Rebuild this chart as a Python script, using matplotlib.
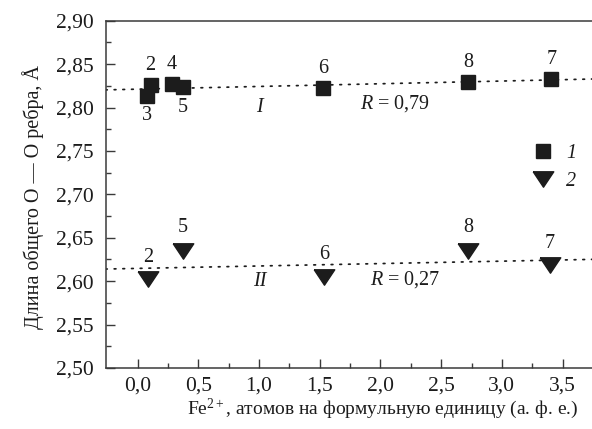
import matplotlib
matplotlib.use("Agg")
import matplotlib.pyplot as plt
import numpy as np
from matplotlib.ticker import FuncFormatter, MultipleLocator, FixedLocator

plt.rcParams["font.family"] = ["Liberation Serif", "DejaVu Serif"]
plt.rcParams["mathtext.fontset"] = "custom"
plt.rcParams["mathtext.rm"] = "Liberation Serif"
plt.rcParams["mathtext.it"] = "Liberation Serif:italic"

INK = "#1c1c1c"
AX_GRAY = "#3a3a3a"

# series 1: squares (upper group)
sq_labels = ["3", "2", "4", "5", "6", "8", "7"]
sq_fe = [0.074, 0.107, 0.28, 0.373, 1.529, 2.723, 3.407]
sq_len = [2.8136, 2.8256, 2.827, 2.8233, 2.8228, 2.829, 2.8332]
sq_label_below = [True, False, False, True, False, False, False]

# series 2: triangles (lower group)
tri_labels = ["2", "5", "6", "8", "7"]
tri_fe = [0.087, 0.371, 1.535, 2.723, 3.394]
tri_len = [2.6028, 2.635, 2.6047, 2.635, 2.6186]

y_ticks = [2.50, 2.55, 2.60, 2.65, 2.70, 2.75, 2.80, 2.85, 2.90]
x_ticks = [0.0, 0.5, 1.0, 1.5, 2.0, 2.5, 3.0, 3.5]
R_values = ["0,79", "0,27"]

FS = 14.5
W, H = 592, 429

fig = plt.figure(figsize=(W / 100, H / 100), dpi=100)
ax = fig.add_axes([105.5 / W, (H - 368) / H, 487.4 / W, 347.3 / H])
ax.set_xlim(-0.265, 3.75)
ax.set_ylim(2.50, 2.90)

# trend lines fitted through each group
for xs, ys in ((sq_fe, sq_len), (tri_fe, tri_len)):
    k, b = np.polyfit(xs, ys, 1)
    xx = np.array(ax.get_xlim())
    ax.plot(xx, k * xx + b, color=INK, lw=1.25, ls=(0, (1, 4.0)),
            dash_capstyle="round", zorder=1)

tri_marker = [(-1, 0.75), (1, 0.75), (0, -0.75), (-1, 0.75)]
h1, = ax.plot(sq_fe, sq_len, ls="none", marker="s", ms=9.4, color=INK, zorder=3)
h2, = ax.plot(tri_fe, tri_len, ls="none", marker=tri_marker, ms=14.8,
              color=INK, zorder=3)

for lab, x, y, below in zip(sq_labels, sq_fe, sq_len, sq_label_below):
    dy = -14.5 if below else 14.0
    ax.annotate(lab, (x, y), xytext=(0, dy), textcoords="offset points",
                ha="center", va="center", fontsize=FS, color=INK)
for lab, x, y in zip(tri_labels, tri_fe, tri_len):
    dy = 16.5 if lab in ("5", "6", "8") else 15.5
    ax.annotate(lab, (x, y), xytext=(0, dy), textcoords="offset points",
                ha="center", va="center", fontsize=FS, color=INK)

ax.text(1.0, 2.8006, "I", style="italic", fontsize=FS, color=INK,
        ha="center", va="center")
ax.text(1.01, 2.5993, "II", style="italic", fontsize=FS, color=INK,
        ha="center", va="center")
ax.text(1.831, 2.8048, "$R$ = " + R_values[0], fontsize=FS, color=INK,
        ha="left", va="center")
ax.text(1.913, 2.6013, "$R$ = " + R_values[1], fontsize=FS, color=INK,
        ha="left", va="center")

leg = ax.legend([h1, h2], ["1", "2"], loc="center left",
                bbox_to_anchor=(533 / W, 1 - 167.5 / H),
                bbox_transform=fig.transFigure, frameon=False,
                fontsize=FS, handlelength=1.0, handletextpad=0.65,
                borderpad=0, borderaxespad=0, labelspacing=0.42)
for t in leg.get_texts():
    t.set_style("italic")
    t.set_color(INK)

comma = FuncFormatter(lambda v, p: f"{v:.2f}".replace(".", ","))
comma1 = FuncFormatter(lambda v, p: f"{v:.1f}".replace(".", ","))
ax.yaxis.set_major_locator(FixedLocator(y_ticks))
ax.yaxis.set_minor_locator(MultipleLocator(0.025))
ax.yaxis.set_major_formatter(comma)
ax.xaxis.set_major_locator(FixedLocator(x_ticks))
ax.xaxis.set_minor_locator(FixedLocator(np.arange(0.25, 3.75, 0.5)))
ax.xaxis.set_major_formatter(comma1)

ax.tick_params(which="both", direction="in", colors=AX_GRAY, labelcolor=INK,
               labelsize=15.5, top=False, right=False, width=1.0)
ax.tick_params(which="major", length=6.5)
ax.tick_params(which="minor", length=3.8)
ax.tick_params(axis="y", which="major", pad=8.5)
ax.tick_params(axis="x", which="major", pad=6)

for side in ("left", "bottom", "top"):
    ax.spines[side].set_color(AX_GRAY)
    ax.spines[side].set_linewidth(1.1)
ax.spines["right"].set_visible(False)

fig.text(383 / W, 1 - 409 / H,
         "Fe$^{\\mathregular{2+}}$, атомов на формульную единицу (а. ф. е.)",
         fontsize=14, color=INK, ha="center", va="center")
fig.text(33 / W, 1 - 197 / H, "Длина общего O — O ребра, Å",
         fontsize=FS, color=INK, ha="center", va="center", rotation=90)

fig.savefig("out.png", dpi=100)
